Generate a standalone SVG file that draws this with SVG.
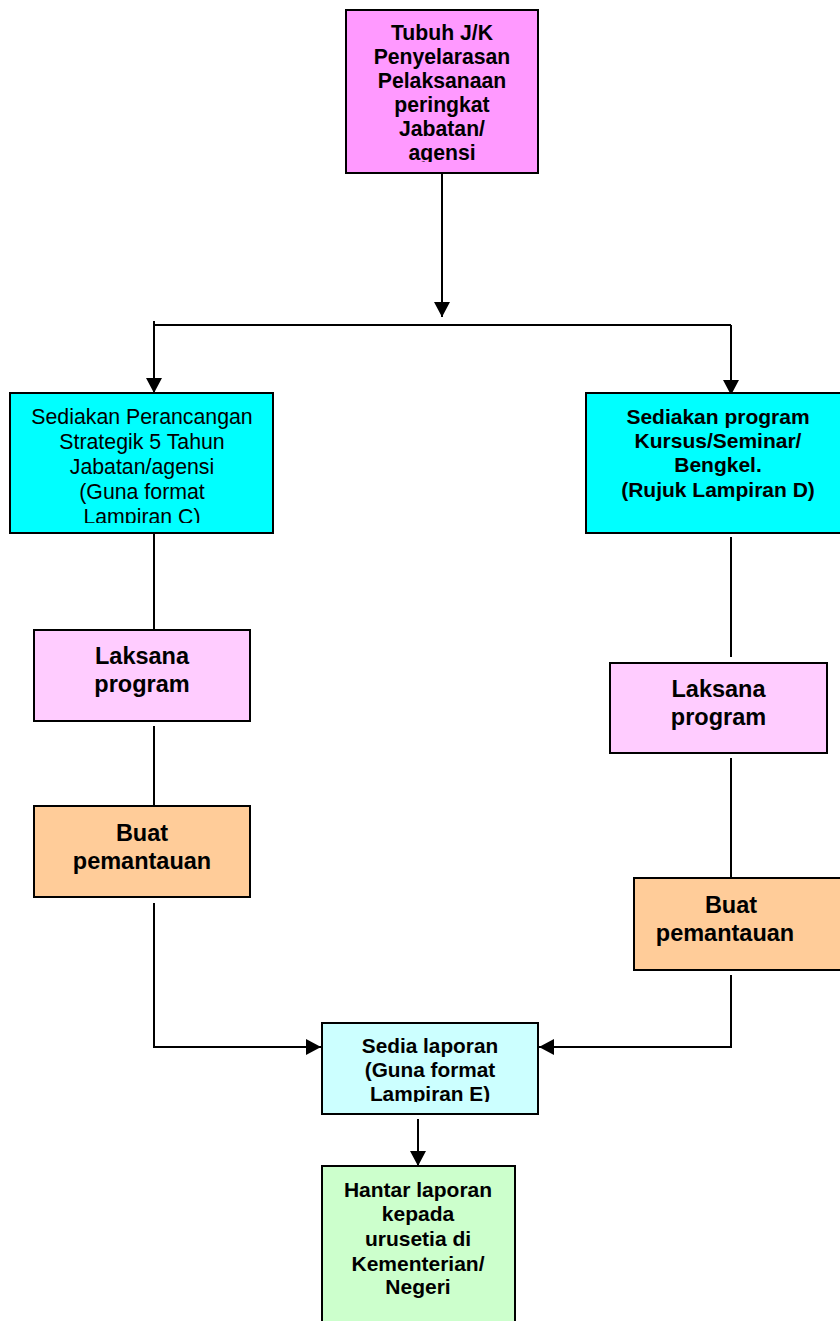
<svg xmlns="http://www.w3.org/2000/svg" width="840" height="1321" viewBox="0 0 840 1321">
<style>
.box{stroke:#000;stroke-width:2}
.t{font-family:"Liberation Sans",Arial,sans-serif;text-anchor:middle;fill:#000}
.b{font-weight:bold}
.c{fill:none;stroke:#000;stroke-width:2}
</style>
<defs>
<marker id="ah" markerUnits="userSpaceOnUse" markerWidth="16" markerHeight="16" refX="15" refY="8" orient="auto">
<path d="M0,0 L15,8 L0,16 z" fill="#000"/>
</marker>
<clipPath id="c1"><rect x="346" y="10" width="192" height="152"/></clipPath>
<clipPath id="c2"><rect x="10" y="393" width="263" height="130"/></clipPath>
<clipPath id="c3"><rect x="322" y="1023" width="216" height="79"/></clipPath>
</defs>
<g id="connectors">
<path class="c" d="M442,173 V317" marker-end="url(#ah)"/>
<path class="c" d="M154,325 H731"/>
<path class="c" d="M154,321 V393" marker-end="url(#ah)"/>
<path class="c" d="M731,325 V395" marker-end="url(#ah)"/>
<path class="c" d="M154,534 V630"/>
<path class="c" d="M154,726 V806"/>
<path class="c" d="M154,903 V1047 H321" marker-end="url(#ah)"/>
<path class="c" d="M731,537 V657"/>
<path class="c" d="M731,758 V878"/>
<path class="c" d="M731,975 V1047 H539" marker-end="url(#ah)"/>
<path class="c" d="M418,1119 V1166" marker-end="url(#ah)"/>
</g>
<g id="n1">
<rect class="box" x="346" y="10" width="192" height="163" fill="#FF99FF"/>
<g clip-path="url(#c1)" class="t b" font-size="21.2">
<text x="442" y="40">Tubuh J/K</text>
<text x="442" y="64">Penyelarasan</text>
<text x="442" y="88">Pelaksanaan</text>
<text x="442" y="112">peringkat</text>
<text x="442" y="136">Jabatan/</text>
<text x="442" y="160">agensi</text>
</g>
</g>
<g id="n2">
<rect class="box" x="10" y="393" width="263" height="140" fill="#00FFFF"/>
<g clip-path="url(#c2)" class="t" font-size="21.3">
<text x="142" y="424">Sediakan Perancangan</text>
<text x="142" y="449">Strategik 5 Tahun</text>
<text x="142" y="474">Jabatan/agensi</text>
<text x="142" y="499">(Guna format</text>
<text x="142" y="524">Lampiran C)</text>
</g>
</g>
<g id="n3">
<rect class="box" x="586" y="393" width="258" height="140" fill="#00FFFF"/>
<g class="t b" font-size="21">
<text x="718" y="424">Sediakan program</text>
<text x="718" y="448">Kursus/Seminar/</text>
<text x="718" y="472">Bengkel.</text>
<text x="718" y="497">(Rujuk Lampiran D)</text>
</g>
</g>
<g id="n4">
<rect class="box" x="34" y="630" width="216" height="91" fill="#FFCCFF"/>
<g class="t b" font-size="23.5">
<text x="142" y="664">Laksana</text>
<text x="142" y="692">program</text>
</g>
</g>
<g id="n5">
<rect class="box" x="34" y="806" width="216" height="91" fill="#FFCC99"/>
<g class="t b" font-size="23.5">
<text x="142" y="841">Buat</text>
<text x="142" y="869">pemantauan</text>
</g>
</g>
<g id="n6">
<rect class="box" x="610" y="663" width="217" height="90" fill="#FFCCFF"/>
<g class="t b" font-size="23.5">
<text x="718.5" y="697">Laksana</text>
<text x="718.5" y="725">program</text>
</g>
</g>
<g id="n7">
<rect class="box" x="634" y="878" width="210" height="92" fill="#FFCC99"/>
<g class="t b" font-size="23.5">
<text x="731" y="913">Buat</text>
<text x="725" y="941">pemantauan</text>
</g>
</g>
<g id="n8">
<rect class="box" x="322" y="1023" width="216" height="91" fill="#CCFFFF"/>
<g clip-path="url(#c3)" class="t b" font-size="20.8">
<text x="430" y="1053">Sedia laporan</text>
<text x="430" y="1077">(Guna format</text>
<text x="430" y="1101">Lampiran E)</text>
</g>
</g>
<g id="n9">
<rect class="box" x="322" y="1166" width="193" height="170" fill="#CCFFCC"/>
<g class="t b" font-size="21">
<text x="418" y="1197">Hantar laporan</text>
<text x="418" y="1221">kepada</text>
<text x="418" y="1246">urusetia di</text>
<text x="418" y="1271">Kementerian/</text>
<text x="418" y="1294">Negeri</text>
</g>
</g>
</svg>
